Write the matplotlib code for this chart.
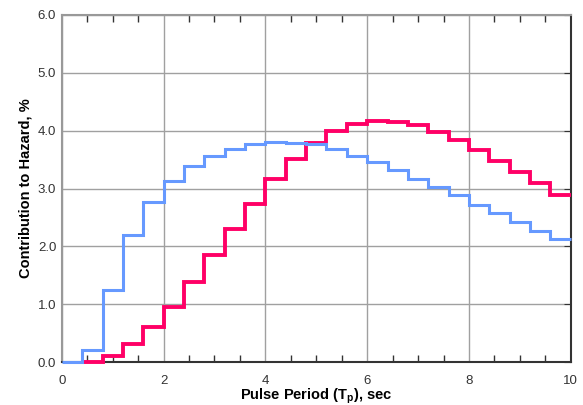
import matplotlib
matplotlib.use("Agg")
from matplotlib import pyplot as plt
from matplotlib.ticker import MultipleLocator

plt.rcParams['font.family'] = ['Liberation Sans', 'DejaVu Sans']

# bin edges of the pulse period histogram (sec)
edges = [0.0, 0.4, 0.8, 1.2, 1.6, 2.0, 2.4, 2.8, 3.2, 3.6, 4.0, 4.4, 4.8, 5.2,
         5.6, 6.0, 6.4, 6.8, 7.2, 7.6, 8.0, 8.4, 8.8, 9.2, 9.6, 10.0]

# contribution to hazard, % (one value per bin)
blue_vals = [0.0, 0.21, 1.24, 2.19, 2.77, 3.13, 3.39, 3.57, 3.69, 3.77, 3.80, 3.79,
             3.77, 3.68, 3.57, 3.46, 3.32, 3.17, 3.02, 2.88, 2.72, 2.57, 2.42,
             2.27, 2.12]
red_vals = [0.0, 0.11, 0.31, 0.60, 0.96, 1.39, 1.85, 2.30, 2.74, 3.16, 3.51,
            3.79, 3.99, 4.12, 4.17, 4.15, 4.10, 3.98, 3.84, 3.66, 3.48, 3.29,
            3.09, 2.88]

fig = plt.figure(figsize=(5.83, 4.05), dpi=100)
ax = fig.add_axes([0.106, 0.106, 0.873, 0.857])

# blue series covers every bin, red starts at 0.4 sec
ax.stairs(blue_vals, edges, baseline=None, color='#6699FF', linewidth=2.2,
          zorder=4, clip_on=False)
ax.stairs(red_vals, edges[1:], baseline=None, color='#FF0066', linewidth=2.8,
          zorder=3, clip_on=False)

ax.set_xlim(0, 10)
ax.set_ylim(0, 6)
ax.xaxis.set_major_locator(MultipleLocator(2))
ax.xaxis.set_minor_locator(MultipleLocator(0.5))
ax.yaxis.set_major_locator(MultipleLocator(1))
ax.set_yticks([0, 1, 2, 3, 4, 5, 6], ['0.0', '1.0', '2.0', '3.0', '4.0', '5.0', '6.0'])
ax.set_xticks([0, 2, 4, 6, 8, 10], ['0', '2', '4', '6', '8', '10'])

ax.grid(True, which='major', color='#A0A0A0', linewidth=1.0, zorder=0)
ax.set_axisbelow(True)

ax.tick_params(axis='x', which='major', length=0, labelsize=9.5, colors='#333333', pad=9)
ax.tick_params(axis='x', which='minor', direction='in', length=5, top=True, bottom=True,
               color='#333333', width=1.0)
ax.tick_params(axis='y', which='major', direction='in', length=5, left=False, right=True,
               labelsize=9.5, colors='#333333', color='#333333', pad=4)

ax.spines['left'].set_color('#999999')
ax.spines['top'].set_color('#999999')
ax.spines['right'].set_color('#333333')
ax.spines['bottom'].set_color('#333333')
for s in ax.spines.values():
    s.set_linewidth(1.5)

ax.set_xlabel('Pulse Period (T$_\\mathregular{p}$), sec', fontsize=10.5, fontweight='bold', labelpad=0)
ax.set_ylabel('Contribution to Hazard, %', fontsize=10.5, fontweight='bold', labelpad=4)

fig.savefig('out.png', dpi=100)
